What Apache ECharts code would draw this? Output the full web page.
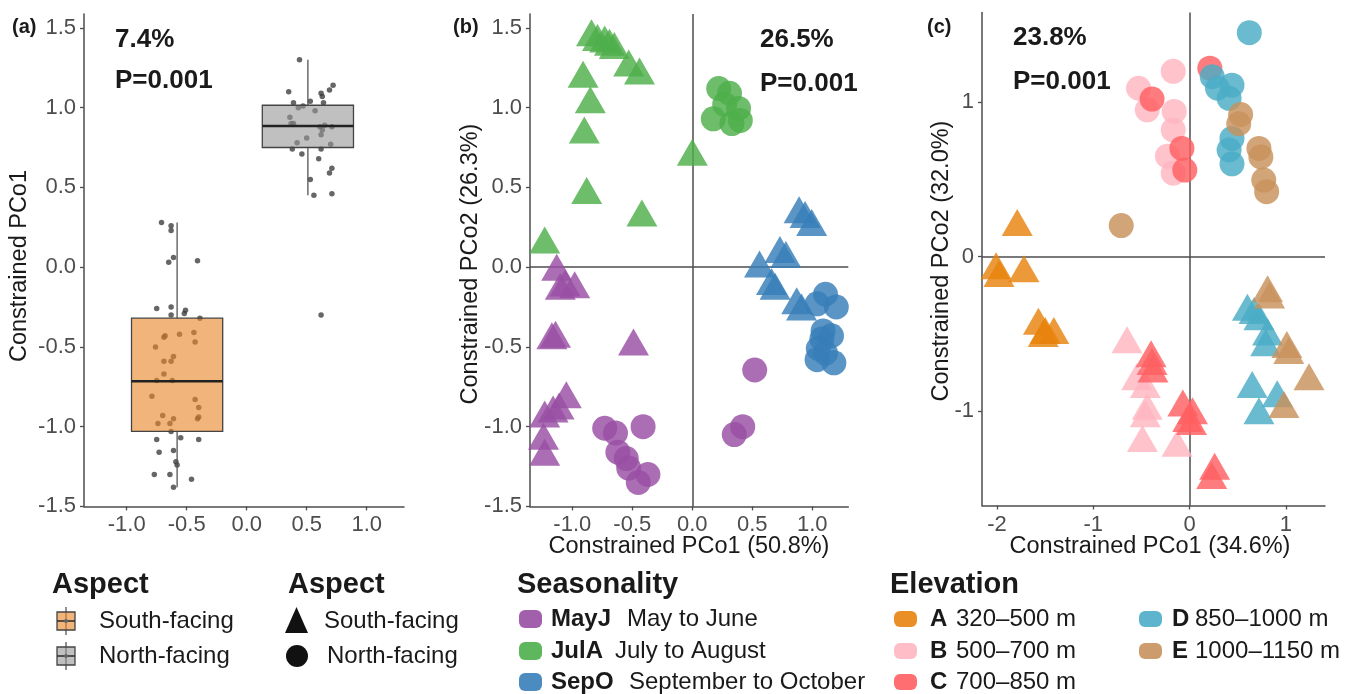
<!DOCTYPE html>
<html>
<head>
<meta charset="utf-8">
<script src="https://cdn.jsdelivr.net/npm/echarts@6/dist/echarts.min.js"></script>
<style>
  html, body { margin: 0; padding: 0; background: #ffffff; }
  #chart { width: 1355px; height: 694px; }
</style>
</head>
<body>
<div id="chart"></div>
<script>
// ---------- Panel (a): Constrained PCo1 by aspect ----------
const aspectGroups = ['South-facing', 'North-facing'];
const boxCenter   = [-0.58, 0.51];
const whiskerLow  = [-1.38, 0.45];
const boxQ1       = [-1.03, 0.75];
const boxMedian   = [-0.715, 0.885];
const boxQ3       = [-0.32, 1.015];
const whiskerHigh = [0.28, 1.30];

const southX = [-0.71,-0.63,-0.63,-0.61,-0.65,-0.41,-0.75,-0.63,-0.63,-0.51,-0.52,-0.39,-0.69,-0.68,-0.56,-0.44,-0.76,-0.43,-0.61,-0.69,-0.63,-0.69,-0.75,-0.62,-0.79,-0.43,-0.40,-0.70,-0.74,-0.61,-0.64,-0.41,-0.40,-0.63,-0.55,-0.75,-0.40,-0.73,-0.61,-0.59,-0.58,-0.77,-0.64,-0.46,-0.61];
const southY = [0.28,0.26,0.23,0.06,0.03,0.04,-0.26,-0.25,-0.30,-0.27,-0.29,-0.32,-0.44,-0.43,-0.42,-0.41,-0.50,-0.47,-0.56,-0.59,-0.59,-0.67,-0.71,-0.71,-0.81,-0.83,-0.88,-0.93,-0.98,-0.95,-0.98,-0.95,-0.94,-1.03,-1.07,-1.08,-1.08,-1.16,-1.15,-1.22,-1.24,-1.30,-1.30,-1.33,-1.38];
const northX = [0.44,0.35,0.62,0.63,0.69,0.72,0.39,0.47,0.53,0.64,0.43,0.57,0.36,0.37,0.39,0.61,0.65,0.71,0.63,0.62,0.50,0.42,0.70,0.38,0.62,0.46,0.60,0.71,0.69,0.53,0.71,0.56,0.62];
const northY = [1.30,1.10,1.09,1.07,1.11,1.14,1.03,1.01,1.04,1.03,1.00,0.98,0.94,0.90,0.90,0.88,0.89,0.88,0.86,0.83,0.81,0.78,0.77,0.74,0.74,0.71,0.68,0.62,0.59,0.55,0.46,0.45,-0.30];

// ---------- Panel (b): seasonality x aspect ----------
const mayjSouth = [[-1.13,0.00],[-1.06,-0.10],[-0.98,-0.11],[-1.10,-0.12],[-1.17,-0.43],[-1.14,-0.42],[-0.49,-0.47],[-1.05,-0.80],[-1.11,-0.87],[-1.16,-0.89],[-1.23,-0.92],[-1.24,-1.06],[-1.23,-1.16]];
const mayjNorth = [[-0.73,-1.01],[-0.64,-1.04],[-0.41,-1.00],[-0.62,-1.16],[-0.55,-1.20],[-0.53,-1.26],[-0.37,-1.30],[-0.45,-1.35],[0.52,-0.645],[0.35,-1.05],[0.42,-1.00]];
const julaSouth = [[-0.84,1.47],[-0.79,1.44],[-0.73,1.43],[-0.69,1.41],[-0.65,1.39],[-0.53,1.28],[-0.44,1.23],[-0.91,1.21],[-0.85,1.05],[-0.90,0.86],[-0.88,0.48],[-0.42,0.34],[-1.23,0.17],[0.00,0.72]];
const julaNorth = [[0.22,1.12],[0.31,1.09],[0.27,1.02],[0.385,0.995],[0.175,0.93],[0.33,0.90],[0.40,0.92]];
const sepoSouth = [[0.89,0.36],[0.94,0.33],[0.995,0.28],[0.73,0.11],[0.78,0.08],[0.56,0.02],[0.66,-0.09],[0.69,-0.12],[0.87,-0.21],[0.91,-0.25]];
const sepoNorth = [[1.11,-0.17],[1.20,-0.25],[1.04,-0.23],[1.09,-0.40],[1.16,-0.43],[1.08,-0.45],[1.05,-0.51],[1.11,-0.54],[1.04,-0.58],[1.18,-0.60]];

// ---------- Panel (c): elevation x aspect ----------
const elevASouth = [[-1.79,0.22],[-2.01,-0.06],[-1.98,-0.11],[-1.72,-0.08],[-1.57,-0.42],[-1.50,-0.48],[-1.41,-0.48],[-1.52,-0.50]];
const elevBNorth = [[-0.17,1.20],[-0.53,1.09],[-0.44,0.95],[-0.16,0.94],[-0.17,0.82],[-0.23,0.65],[-0.17,0.54]];
const elevBSouth = [[-0.65,-0.54],[-0.55,-0.78],[-0.46,-0.83],[-0.44,-0.97],[-0.46,-1.02],[-0.49,-1.18],[-0.13,-1.21]];
const elevCNorth = [[-0.39,1.02],[-0.08,0.70],[-0.05,0.56],[0.21,1.22]];
const elevCSouth = [[-0.40,-0.63],[-0.39,-0.68],[-0.38,-0.73],[-0.07,-0.95],[0.03,-1.00],[-0.02,-1.05],[0.02,-1.07],[0.26,-1.36],[0.23,-1.42]];
const elevDNorth = [[0.62,1.45],[0.235,1.165],[0.29,1.09],[0.44,1.11],[0.41,1.025],[0.44,0.765],[0.41,0.69],[0.44,0.60]];
const elevDSouth = [[0.60,-0.33],[0.67,-0.35],[0.72,-0.39],[0.81,-0.49],[0.79,-0.56],[0.65,-0.83],[0.91,-0.89],[0.72,-1.00]];
const elevENorth = [[0.53,0.92],[0.51,0.86],[0.72,0.70],[0.74,0.645],[0.77,0.495],[0.80,0.42],[-0.71,0.20]];
const elevESouth = [[0.81,-0.21],[0.83,-0.25],[1.01,-0.57],[1.03,-0.61],[1.24,-0.78],[0.98,-0.96]];

// ---------- Tick labels ----------
const xTicksAB = [-1, -0.5, 0, 0.5, 1];
const yTicksAB = [-1.5, -1, -0.5, 0, 0.5, 1, 1.5];
const xTicksC  = [-2, -1, 0, 1];
const yTicksC  = [-1, 0, 1];

// ---------- Legend text ----------
const seasonKeys   = ['MayJ', 'JulA', 'SepO'];
const seasonLabels = ['May to June', 'July to August', 'September to October'];
const elevKeys     = ['A', 'B', 'C', 'D', 'E'];
const elevLabels   = ['320\u2013500 m', '500\u2013700 m', '700\u2013850 m', '850\u20131000 m', '1000\u20131150 m'];

// ---------- Styling ----------
const FONT = '"Liberation Sans", Arial, sans-serif';
const AXIS_COL = '#4d4d4d';
const seasonColors = ['#984EA3', '#4DAF4A', '#377EB8'];
const elevColors   = ['#E8830E', '#FFB6C1', '#FF5F62', '#4BACC6', '#C8915C'];
const boxFill = ['rgba(232,134,42,0.62)', 'rgba(150,150,150,0.6)'];
const TRI = [31, 27];
const CIR = 25;
const ALPHA = 0.82;

const fmt1 = v => v.toFixed(1);
const fmt0 = v => String(v);

function valueAxis(gridIndex, min, max, ticks, fmt, position) {
  return {
    type: 'value', gridIndex, min, max, position,
    axisLine: { show: true, onZero: false, lineStyle: { color: AXIS_COL, width: 1.5 } },
    axisTick: { show: true, length: 4, customValues: ticks, lineStyle: { color: AXIS_COL, width: 1.3 } },
    axisLabel: { show: true, customValues: ticks, formatter: fmt, color: AXIS_COL,
                 fontSize: 22, fontFamily: FONT, margin: 8 },
    splitLine: { show: false }
  };
}

function scatter(idx, data, symbol, color) {
  return {
    type: 'scatter', xAxisIndex: idx, yAxisIndex: idx, data,
    symbol, symbolSize: symbol === 'triangle' ? TRI : CIR,
    itemStyle: { color, opacity: ALPHA },
    z: 3, silent: true
  };
}

const zeroLines = {
  silent: true, symbol: 'none', z: 1,
  label: { show: false },
  lineStyle: { color: AXIS_COL, width: 1.5, type: 'solid' },
  data: [{ xAxis: 0 }, { yAxis: 0 }]
};

// box plot drawn through the panel (a) scales
const boxSeries = {
  type: 'custom', xAxisIndex: 0, yAxisIndex: 0, z: 4, silent: true,
  encode: { x: 0, y: [1, 2, 3, 4, 5] },
  data: aspectGroups.map((g, i) => [boxCenter[i], whiskerLow[i], boxQ1[i], boxMedian[i], boxQ3[i], whiskerHigh[i], i]),
  renderItem(params, api) {
    const cx = api.value(0), i = api.value(6);
    const halfW = 0.38;
    const lo = api.coord([cx, api.value(1)]);
    const q1 = api.coord([cx, api.value(2)]);
    const md = api.coord([cx, api.value(3)]);
    const q3 = api.coord([cx, api.value(4)]);
    const hi = api.coord([cx, api.value(5)]);
    const xl = api.coord([cx - halfW, 0])[0];
    const xr = api.coord([cx + halfW, 0])[0];
    const wStyle = { stroke: '#555', lineWidth: 1.3 };
    return {
      type: 'group',
      children: [
        { type: 'line', shape: { x1: lo[0], y1: lo[1], x2: q1[0], y2: q1[1] }, style: wStyle },
        { type: 'line', shape: { x1: q3[0], y1: q3[1], x2: hi[0], y2: hi[1] }, style: wStyle },
        { type: 'rect', shape: { x: xl, y: q3[1], width: xr - xl, height: q1[1] - q3[1] },
          style: { fill: boxFill[i], stroke: '#444', lineWidth: 1.3 } },
        { type: 'line', shape: { x1: xl, y1: md[1], x2: xr, y2: md[1] }, style: { stroke: '#222', lineWidth: 2.4 } }
      ]
    };
  }
};

const jitterStyle = { color: '#333333', opacity: 0.75 };

// ---------- Free text and legends ----------
function txt(x, y, text, size, weight, opts) {
  const o = opts || {};
  return {
    type: 'text', x, y, rotation: o.rotation || 0, silent: true,
    style: { text, fill: o.fill || '#1a1a1a', fontSize: size, fontWeight: weight || 'normal',
             fontFamily: FONT, align: o.align || 'left', verticalAlign: 'middle' }
  };
}

const graphics = [];
// panel tags
graphics.push(txt(12, 27, '(a)', 20, 'bold'), txt(453, 27, '(b)', 20, 'bold'), txt(927, 27, '(c)', 20, 'bold'));
// statistics
graphics.push(txt(115, 40, '7.4%', 26, 'bold'), txt(115, 81, 'P=0.001', 26, 'bold'));
graphics.push(txt(760, 40, '26.5%', 26, 'bold'), txt(760, 84, 'P=0.001', 26, 'bold'));
graphics.push(txt(1013, 38, '23.8%', 26, 'bold'), txt(1013, 82, 'P=0.001', 26, 'bold'));
// axis titles
graphics.push(txt(20, 266, 'Constrained PCo1', 23.5, 'normal', { align: 'center', rotation: Math.PI / 2 }));
graphics.push(txt(471, 264, 'Constrained PCo2 (26.3%)', 23.5, 'normal', { align: 'center', rotation: Math.PI / 2 }));
graphics.push(txt(689, 547, 'Constrained PCo1 (50.8%)', 23.5, 'normal', { align: 'center' }));
graphics.push(txt(942, 261, 'Constrained PCo2 (32.0%)', 23.5, 'normal', { align: 'center', rotation: Math.PI / 2 }));
graphics.push(txt(1150, 547, 'Constrained PCo1 (34.6%)', 23.5, 'normal', { align: 'center' }));

const aspectRowY = [621, 656];
const rowY = [619, 651, 682];

// Aspect (box glyphs)
graphics.push(txt(52, 585, 'Aspect', 29, 'bold'));
aspectGroups.forEach((g, i) => {
  const cx = 66, cy = aspectRowY[i];
  graphics.push({
    type: 'group', silent: true,
    children: [
      { type: 'line', shape: { x1: cx, y1: cy - 14, x2: cx, y2: cy + 14 }, style: { stroke: '#555', lineWidth: 1.3 } },
      { type: 'rect', shape: { x: cx - 9, y: cy - 9, width: 18, height: 18 }, style: { fill: boxFill[i], stroke: '#444', lineWidth: 1.3 } },
      { type: 'line', shape: { x1: cx - 9, y1: cy, x2: cx + 9, y2: cy }, style: { stroke: '#333', lineWidth: 1.6 } },
      { type: 'circle', shape: { cx, cy, r: 2 }, style: { fill: '#666' } }
    ]
  });
  graphics.push(txt(99, cy, g, 24, 'normal'));
});

// Aspect (point shapes)
graphics.push(txt(288, 585, 'Aspect', 29, 'bold'));
graphics.push({ type: 'polygon', silent: true, shape: { points: [[285, 633], [308, 633], [296.5, 607]] }, style: { fill: '#111' } });
graphics.push(txt(324, aspectRowY[0], aspectGroups[0], 24, 'normal'));
graphics.push({ type: 'circle', silent: true, shape: { cx: 297, cy: aspectRowY[1], r: 11 }, style: { fill: '#111' } });
graphics.push(txt(327, aspectRowY[1], aspectGroups[1], 24, 'normal'));

// Seasonality
graphics.push(txt(517, 585, 'Seasonality', 29, 'bold'));
const seasonTextX = [627, 615, 629];
seasonKeys.forEach((k, i) => {
  const cy = rowY[i];
  graphics.push({ type: 'rect', silent: true, shape: { x: 519, y: cy - 9, width: 23, height: 18, r: 6 }, style: { fill: seasonColors[i], opacity: 0.9 } });
  graphics.push(txt(551, cy, k, 24, 'bold'));
  graphics.push(txt(seasonTextX[i], cy, seasonLabels[i], 24, 'normal'));
});

// Elevation
graphics.push(txt(890, 585, 'Elevation', 29, 'bold'));
elevKeys.forEach((k, i) => {
  const col = i < 3 ? 0 : 1;
  const cy = rowY[col === 0 ? i : i - 3];
  const ix = col === 0 ? 894 : 1139;
  const kx = col === 0 ? 930 : 1172;
  const lx = col === 0 ? 956 : 1195;
  graphics.push({ type: 'rect', silent: true, shape: { x: ix, y: cy - 8, width: 23, height: 16, r: 6 }, style: { fill: elevColors[i], opacity: 0.9 } });
  graphics.push(txt(kx, cy, k, 24, 'bold'));
  graphics.push(txt(lx, cy, elevLabels[i], 24, 'normal'));
});

const option = {
  animation: false,
  backgroundColor: '#ffffff',
  textStyle: { fontFamily: FONT },
  grid: [
    { left: 84,  top: 14,   width: 320,   height: 492.4, outerBoundsMode: 'none' },
    { left: 530, top: 14,   width: 318.3, height: 492.4, outerBoundsMode: 'none' },
    { left: 982, top: 12.5, width: 343,   height: 493,   outerBoundsMode: 'none' }
  ],
  xAxis: [
    valueAxis(0, -1.356, 1.311, xTicksAB, fmt1, 'bottom'),
    valueAxis(1, -1.3525, 1.30, xTicksAB, fmt1, 'bottom'),
    valueAxis(2, -2.156, 1.406, xTicksC, fmt0, 'bottom')
  ],
  yAxis: [
    valueAxis(0, -1.5, 1.587, yTicksAB, fmt1, 'left'),
    valueAxis(1, -1.5, 1.587, yTicksAB, fmt1, 'left'),
    valueAxis(2, -1.614, 1.581, yTicksC, fmt0, 'left')
  ],
  graphic: graphics,
  series: [
    // panel (a)
    { type: 'scatter', xAxisIndex: 0, yAxisIndex: 0, symbolSize: 5.5, z: 2, silent: true,
      itemStyle: jitterStyle, data: southX.map((x, i) => [x, southY[i]]) },
    { type: 'scatter', xAxisIndex: 0, yAxisIndex: 0, symbolSize: 5.5, z: 2, silent: true,
      itemStyle: jitterStyle, data: northX.map((x, i) => [x, northY[i]]) },
    boxSeries,
    // panel (b)
    Object.assign(scatter(1, mayjSouth, 'triangle', seasonColors[0]), { markLine: zeroLines }),
    scatter(1, mayjNorth, 'circle', seasonColors[0]),
    scatter(1, julaSouth, 'triangle', seasonColors[1]),
    scatter(1, julaNorth, 'circle', seasonColors[1]),
    scatter(1, sepoSouth, 'triangle', seasonColors[2]),
    scatter(1, sepoNorth, 'circle', seasonColors[2]),
    // panel (c)
    Object.assign(scatter(2, elevASouth, 'triangle', elevColors[0]), { markLine: zeroLines }),
    scatter(2, elevBNorth, 'circle', elevColors[1]),
    scatter(2, elevBSouth, 'triangle', elevColors[1]),
    scatter(2, elevCNorth, 'circle', elevColors[2]),
    scatter(2, elevCSouth, 'triangle', elevColors[2]),
    scatter(2, elevDNorth, 'circle', elevColors[3]),
    scatter(2, elevDSouth, 'triangle', elevColors[3]),
    scatter(2, elevENorth, 'circle', elevColors[4]),
    scatter(2, elevESouth, 'triangle', elevColors[4])
  ]
};

const chart = echarts.init(document.getElementById('chart'), null, { renderer: 'canvas' });
chart.setOption(option);
</script>
</body>
</html>
